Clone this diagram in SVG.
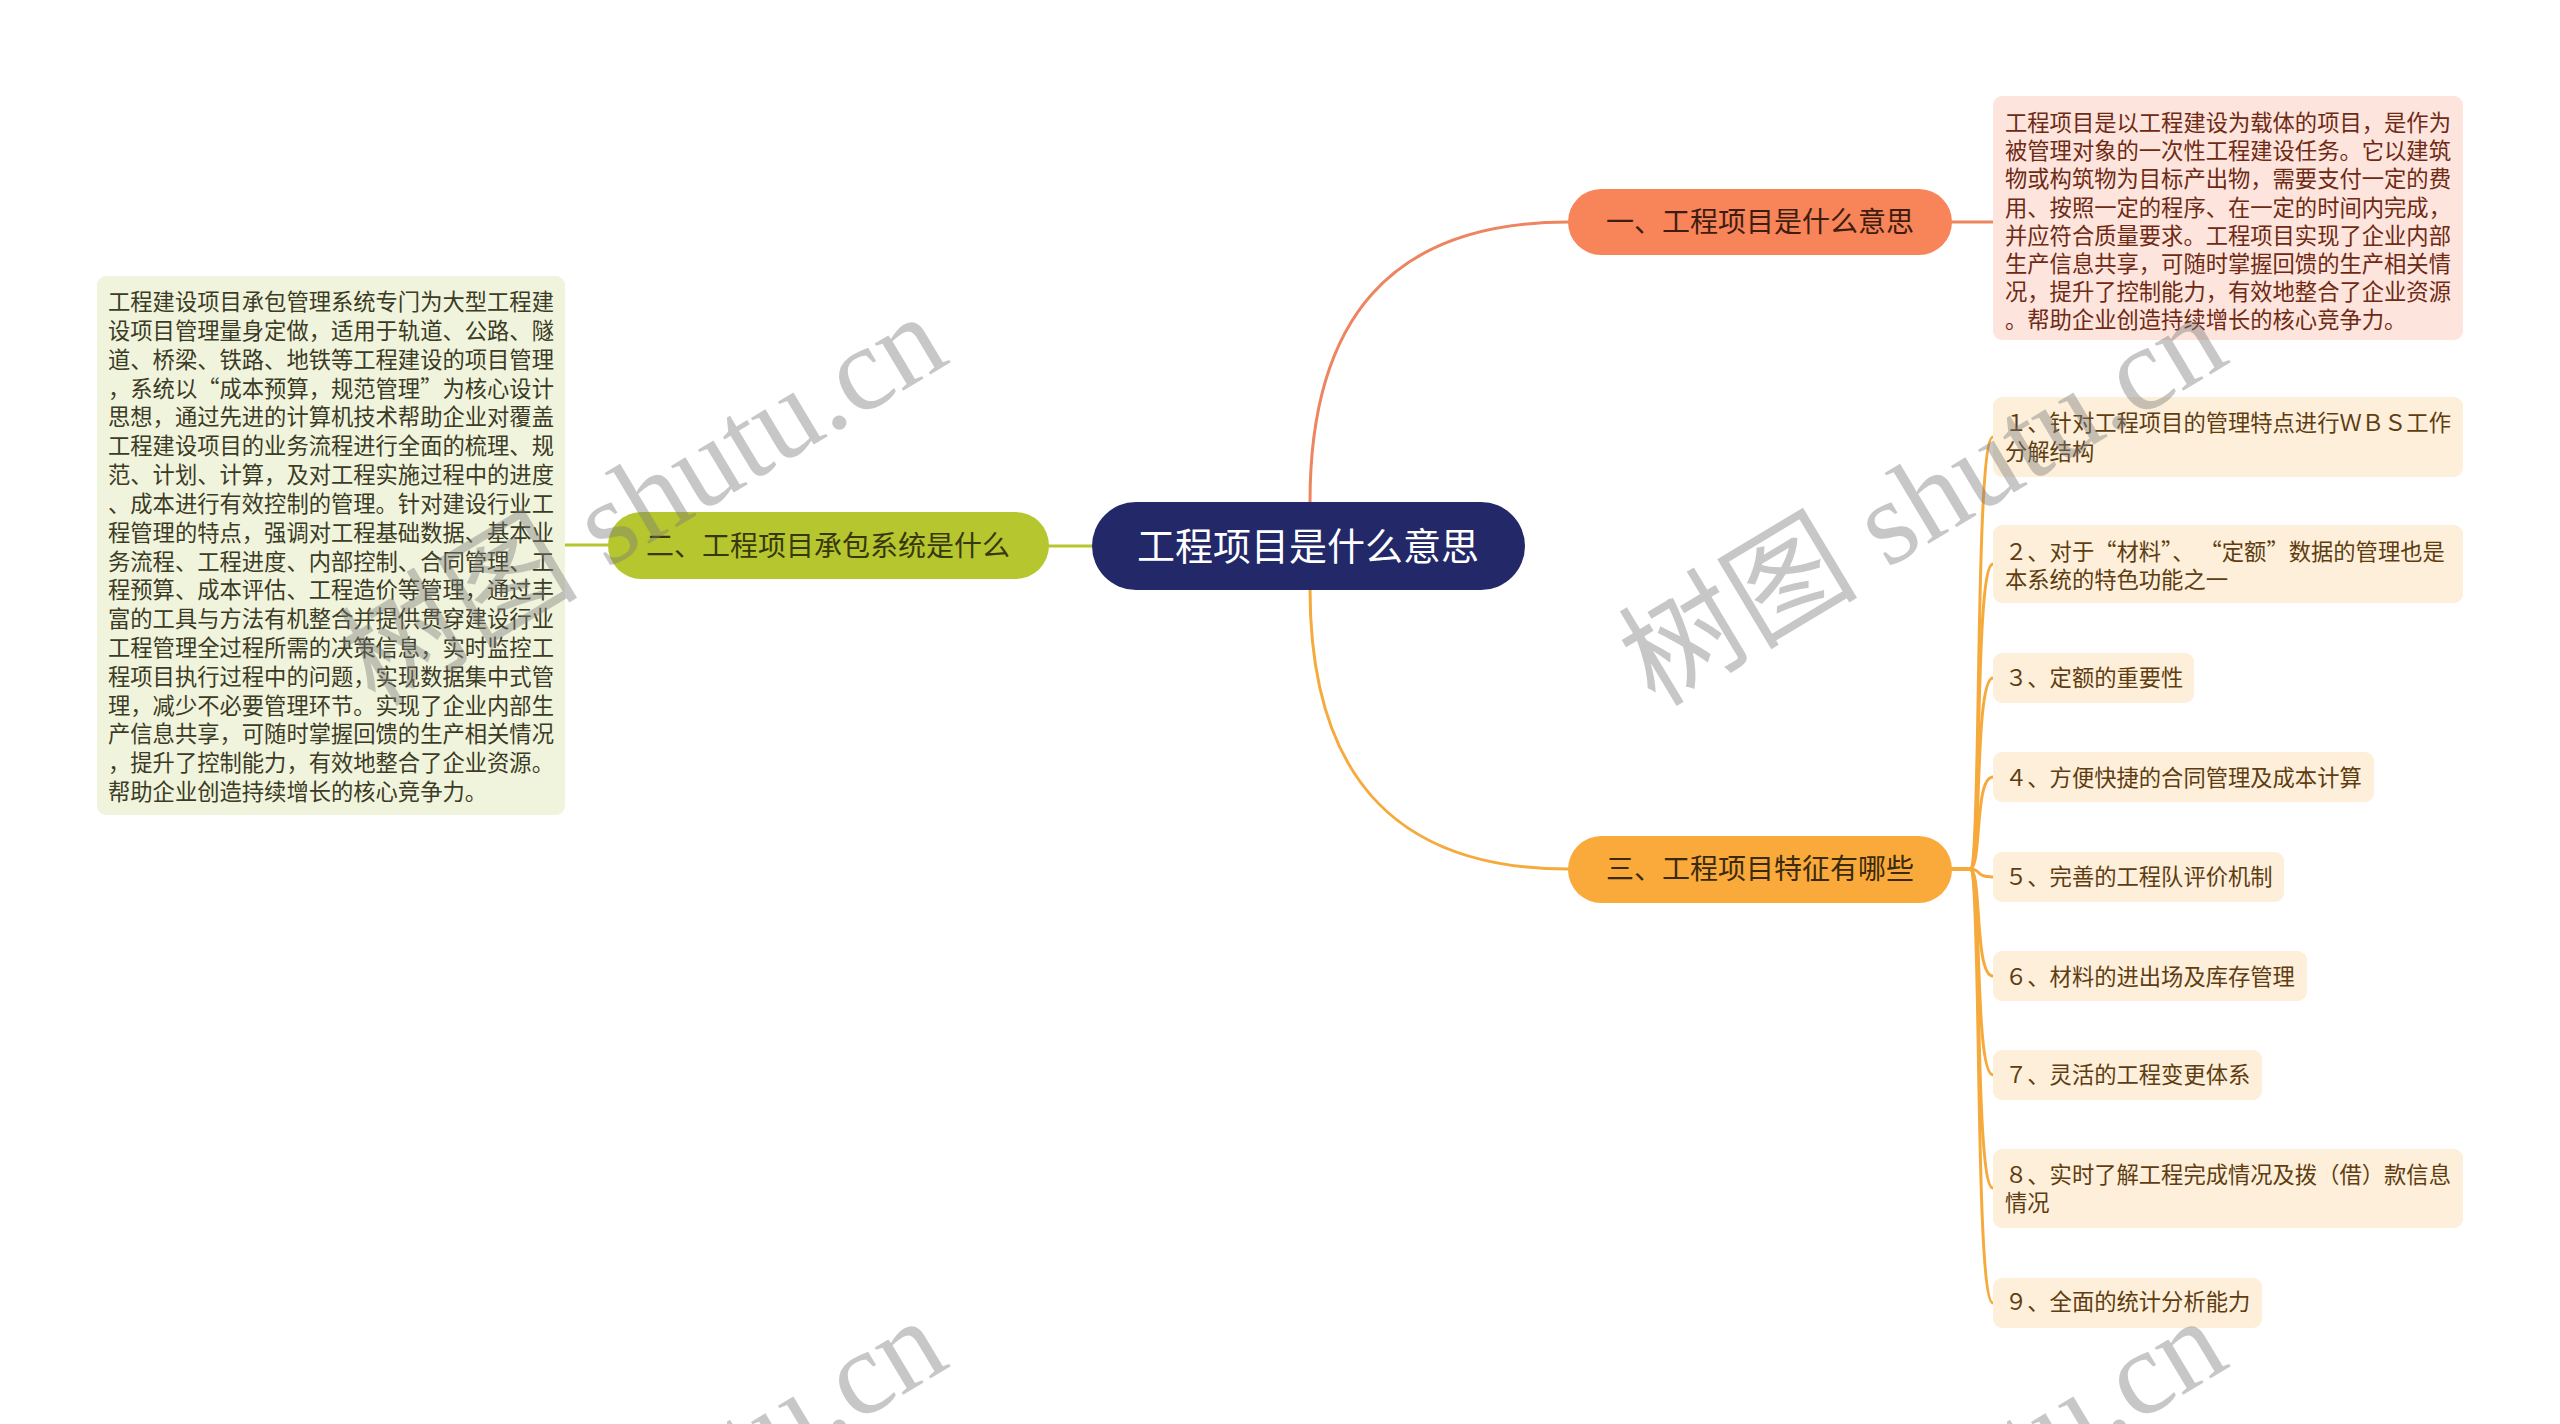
<svg xmlns="http://www.w3.org/2000/svg" width="2560" height="1424" viewBox="0 0 2560 1424">
<style>
text{font-family:"Noto Sans CJK SC","Noto Sans",sans-serif}
.conn{fill:none;stroke-width:3;stroke-linecap:round}
.c1{stroke:#ec8560}
.c2{stroke:#b6c62e}
.c3{stroke:#f6aa3c}
.t-center{font-size:38px;fill:#ffffff;text-anchor:middle}
.t-main{font-size:28px;text-anchor:middle}
.t-box{font-size:22.3px}
.t-item{font-size:22.3px;fill:#5e3d12}
.item{fill:#fdefd9}
.wm{font-family:"Liberation Serif","Noto Sans CJK SC",serif;font-size:120px;fill:#7a7a7a;fill-opacity:0.42}
</style>
<rect width="2560" height="1424" fill="#ffffff"/>

<g id="connectors">
  <path class="conn c1" d="M1310,502 C1310,320 1390,222 1568,222"/>
  <path class="conn c1" d="M1951,222 L1993,222"/>
  <path class="conn c2" d="M1092,546 L1048,546"/>
  <path class="conn c2" d="M608,545 L565,545"/>
  <path class="conn c3" d="M1310,589 C1310,770 1390,869 1568,869"/>
  <path class="conn c3" d="M1951,869 H1970 C1982,869 1974,437 1993,437"/>
  <path class="conn c3" d="M1951,869 H1970 C1982,869 1974,564 1993,564"/>
  <path class="conn c3" d="M1951,869 H1970 C1982,869 1974,678 1993,678"/>
  <path class="conn c3" d="M1951,869 H1970 C1982,869 1974,777 1993,777"/>
  <path class="conn c3" d="M1951,869 H1970 C1982,869 1974,877 1993,877"/>
  <path class="conn c3" d="M1951,869 H1970 C1982,869 1974,976 1993,976"/>
  <path class="conn c3" d="M1951,869 H1970 C1982,869 1974,1075 1993,1075"/>
  <path class="conn c3" d="M1951,869 H1970 C1982,869 1974,1188 1993,1188"/>
  <path class="conn c3" d="M1951,869 H1970 C1982,869 1974,1303 1993,1303"/>
</g>

<g id="root">
  <rect x="1092" y="502" width="433" height="88" rx="44" fill="#222868"/>
  <text class="t-center" x="1308" y="560">工程项目是什么意思</text>
</g>

<g id="branch1">
  <rect x="1568" y="189" width="384" height="66" rx="33" fill="#f8845a"/>
  <text class="t-main" x="1760" y="232" fill="#3f1d0e">一、工程项目是什么意思</text>
</g>

<g id="branch1-text">
  <rect x="1993" y="96" width="470" height="244" rx="9" fill="#fde4dc"/>
  <text class="t-box" fill="#6e2a14">
    <tspan x="2005" y="131">工程项目是以工程建设为载体的项目，是作为</tspan>
    <tspan x="2005" y="159">被管理对象的一次性工程建设任务。它以建筑</tspan>
    <tspan x="2005" y="187">物或构筑物为目标产出物，需要支付一定的费</tspan>
    <tspan x="2005" y="216">用、按照一定的程序、在一定的时间内完成，</tspan>
    <tspan x="2005" y="244">并应符合质量要求。工程项目实现了企业内部</tspan>
    <tspan x="2005" y="272">生产信息共享，可随时掌握回馈的生产相关情</tspan>
    <tspan x="2005" y="300">况，提升了控制能力，有效地整合了企业资源</tspan>
    <tspan x="2005" y="328">。帮助企业创造持续增长的核心竞争力。</tspan>
  </text>
</g>

<g id="branch2">
  <rect x="608" y="512" width="441" height="67" rx="33.5" fill="#b6c62e"/>
  <text class="t-main" x="828" y="556" fill="#38380f">二、工程项目承包系统是什么</text>
</g>

<g id="branch2-text">
  <rect x="97" y="276" width="468" height="539" rx="9" fill="#f1f4dc"/>
  <text class="t-box" fill="#3b3b26">
    <tspan x="108" y="310">工程建设项目承包管理系统专门为大型工程建</tspan>
    <tspan x="108" y="339">设项目管理量身定做，适用于轨道、公路、隧</tspan>
    <tspan x="108" y="368">道、桥梁、铁路、地铁等工程建设的项目管理</tspan>
    <tspan x="108" y="397">，系统以“成本预算，规范管理”为核心设计</tspan>
    <tspan x="108" y="425">思想，通过先进的计算机技术帮助企业对覆盖</tspan>
    <tspan x="108" y="454">工程建设项目的业务流程进行全面的梳理、规</tspan>
    <tspan x="108" y="483">范、计划、计算，及对工程实施过程中的进度</tspan>
    <tspan x="108" y="512">、成本进行有效控制的管理。针对建设行业工</tspan>
    <tspan x="108" y="541">程管理的特点，强调对工程基础数据、基本业</tspan>
    <tspan x="108" y="570">务流程、工程进度、内部控制、合同管理、工</tspan>
    <tspan x="108" y="598">程预算、成本评估、工程造价等管理，通过丰</tspan>
    <tspan x="108" y="627">富的工具与方法有机整合并提供贯穿建设行业</tspan>
    <tspan x="108" y="656">工程管理全过程所需的决策信息，实时监控工</tspan>
    <tspan x="108" y="685">程项目执行过程中的问题，实现数据集中式管</tspan>
    <tspan x="108" y="714">理，减少不必要管理环节。实现了企业内部生</tspan>
    <tspan x="108" y="742">产信息共享，可随时掌握回馈的生产相关情况</tspan>
    <tspan x="108" y="771">，提升了控制能力，有效地整合了企业资源。</tspan>
    <tspan x="108" y="800">帮助企业创造持续增长的核心竞争力。</tspan>
  </text>
</g>

<g id="branch3">
  <rect x="1568" y="836" width="384" height="67" rx="33.5" fill="#f9aa3b"/>
  <text class="t-main" x="1760" y="879" fill="#3b2a0e">三、工程项目特征有哪些</text>
</g>

<g id="item1">
  <rect class="item" x="1993" y="397" width="470" height="80" rx="9"/>
  <text class="t-item"><tspan x="2005" y="431">１、针对工程项目的管理特点进行ＷＢＳ工作</tspan><tspan x="2005" y="460">分解结构</tspan></text>
</g>
<g id="item2">
  <rect class="item" x="1993" y="525" width="470" height="78" rx="9"/>
  <text class="t-item"><tspan x="2005" y="560">２、对于“材料”、 “定额”数据的管理也是</tspan><tspan x="2005" y="588">本系统的特色功能之一</tspan></text>
</g>
<g id="item3">
  <rect class="item" x="1993" y="653" width="201" height="50" rx="9"/>
  <text class="t-item" x="2005" y="686">３、定额的重要性</text>
</g>
<g id="item4">
  <rect class="item" x="1993" y="752" width="381" height="50" rx="9"/>
  <text class="t-item" x="2005" y="786">４、方便快捷的合同管理及成本计算</text>
</g>
<g id="item5">
  <rect class="item" x="1993" y="852" width="291" height="50" rx="9"/>
  <text class="t-item" x="2005" y="885">５、完善的工程队评价机制</text>
</g>
<g id="item6">
  <rect class="item" x="1993" y="951" width="314" height="50" rx="9"/>
  <text class="t-item" x="2005" y="985">６、材料的进出场及库存管理</text>
</g>
<g id="item7">
  <rect class="item" x="1993" y="1050" width="269" height="50" rx="9"/>
  <text class="t-item" x="2005" y="1083">７、灵活的工程变更体系</text>
</g>
<g id="item8">
  <rect class="item" x="1993" y="1149" width="470" height="79" rx="9"/>
  <text class="t-item"><tspan x="2005" y="1183">８、实时了解工程完成情况及拨（借）款信息</tspan><tspan x="2005" y="1211">情况</tspan></text>
</g>
<g id="item9">
  <rect class="item" x="1993" y="1278" width="269" height="50" rx="9"/>
  <text class="t-item" x="2005" y="1310">９、全面的统计分析能力</text>
</g>

<g id="watermarks">
  <text class="wm" transform="translate(1655,708) rotate(-31)">树图 shutu.cn</text>
  <text class="wm" transform="translate(375,708) rotate(-31)">树图 shutu.cn</text>
  <text class="wm" transform="translate(1655,1712) rotate(-31)">树图 shutu.cn</text>
  <text class="wm" transform="translate(375,1712) rotate(-31)">树图 shutu.cn</text>
</g>
</svg>
